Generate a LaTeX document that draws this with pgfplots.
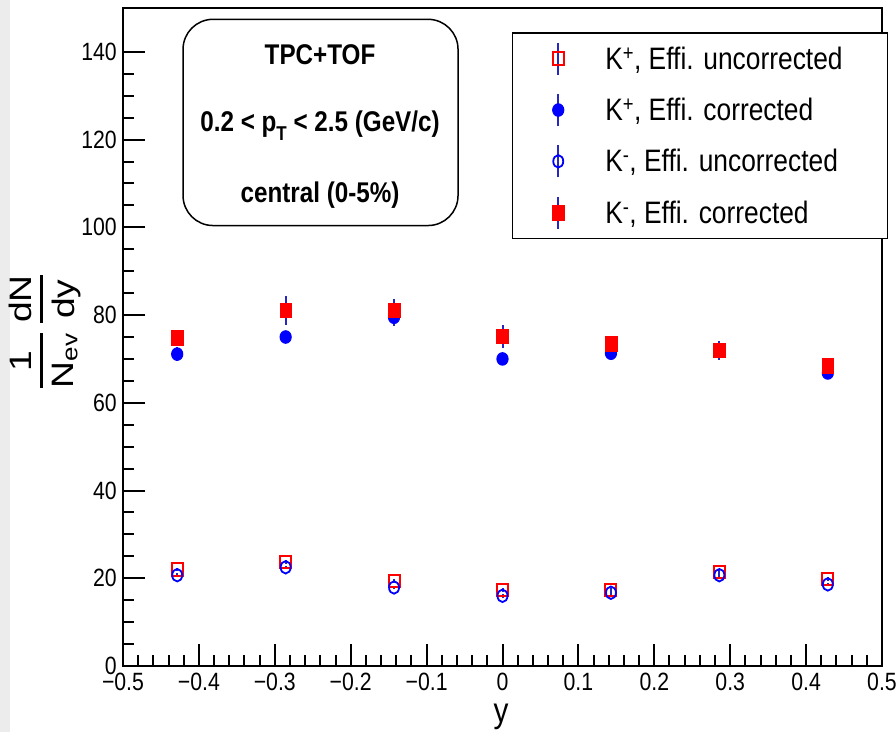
\documentclass[border=0pt]{standalone}
\usepackage{amsmath}
\usepackage{fontspec}
\setmainfont{Liberation Sans}[FakeStretch=0.85]
\newfontfamily\ylabfont{Liberation Sans}[FakeStretch=1.2]
\usepackage{pgfplots}
\usepackage{pgfplotstable}
\pgfplotsset{compat=1.18}
\definecolor{errblue}{RGB}{40,40,190}
\definecolor{gstrip}{RGB}{236,236,236}

% K+ efficiency uncorrected (red open squares)
\pgfplotstableread{
x y e
-0.4286 22.0 0.4
-0.2857 23.7 0.4
-0.1429 19.4 0.4
0.0 17.3 0.4
0.1429 17.3 0.4
0.2857 21.4 0.4
0.4286 19.8 0.4
}\kpunc
% K+ efficiency corrected (blue filled circles)
\pgfplotstableread{
x y e
-0.4286 71.1 1.6
-0.2857 75.0 1.3
-0.1429 79.5 1.9
0.0 70.0 1.3
0.1429 71.3 1.2
0.2857 72.0 2.0
0.4286 66.8 0.8
}\kpcor
% K- efficiency uncorrected (blue open circles)
\pgfplotstableread{
x y e
-0.4286 20.7 0.4
-0.2857 22.5 0.4
-0.1429 17.9 0.4
0.0 16.0 0.4
0.1429 16.7 0.4
0.2857 20.7 0.4
0.4286 18.6 0.4
}\kmunc
% K- efficiency corrected (red filled squares)
\pgfplotstableread{
x y e
-0.4286 74.8 1.2
-0.2857 81.1 3.3
-0.1429 81.1 2.5
0.0 75.2 2.6
0.1429 73.5 1.0
0.2857 72.0 2.2
0.4286 68.4 0.8
}\kmcor

\begin{document}
\begin{tikzpicture}
\fill[white] (-123pt,-66pt) rectangle (773pt,666pt);
\fill[gstrip] (-123pt,-66pt) rectangle (-113pt,666pt);
\begin{axis}[
  at={(0pt,0pt)}, anchor=south west,
  scale only axis, width=759pt, height=658pt,
  xmin=-0.5, xmax=0.5, ymin=0, ymax=150,
  xtick={-0.5,-0.4,-0.3,-0.2,-0.1,0,0.1,0.2,0.3,0.4,0.5},
  xticklabels={−0.5,−0.4,−0.3,−0.2,−0.1,0,0.1,0.2,0.3,0.4,0.5},
  ytick={0,20,40,60,80,100,120,140},
  minor x tick num=4, minor y tick num=3,
  tick align=inside, tick pos=left,
  major tick length=22pt, minor tick length=11pt,
  tick style={black, line width=2pt},
  axis line style={line width=2.2pt},
  /pgf/number format/assume math mode=true,
  tick label style={font=\fontsize{25}{26}\selectfont, inner sep=0pt},
  xticklabel style={yshift=-7pt},
  yticklabel style={xshift=-6pt},
  xlabel={y},
  xlabel style={at={(axis description cs:0.498,0)}, anchor=north, yshift=-38pt, inner sep=0pt, font=\fontsize{35}{35}\selectfont},
  ylabel={\ylabfont\fontsize{31}{31}\selectfont$\genfrac{}{}{3pt}{0}{\text{1}}{\text{N}_{\text{ev}}}\hspace{8pt}\genfrac{}{}{3pt}{0}{\text{dN}}{\text{dy}}$},
  ylabel style={at={(axis description cs:-0.1028,0.508)}, anchor=center, inner sep=0pt},
  legend cell align=left,
  legend style={at={(axis description cs:1.0079,0.963)}, anchor=north east, draw=black, line width=1.5pt, fill=white, inner sep=0pt, nodes={inner sep=0pt, font=\fontsize{31}{33}\selectfont}},
  legend image code/.code={
    \path[draw=none, fill=none] (-46pt,-25.65pt) rectangle (47pt,25.65pt);
    \draw[errblue, line width=2pt] (0pt,-16pt) -- (0pt,16pt);
    \draw[#1] plot coordinates {(0pt,0pt)};
  },
]
\addplot[only marks, red, mark=square, mark size=5.5pt, line width=2pt, mark options={yscale=1.15, solid},
  error bars/.cd, y dir=both, y explicit, error mark=none, error bar style={errblue, line width=2pt}]
  table[x=x, y=y, y error=e]{\kpunc};
\addlegendentry{\makebox[282pt][l]{K\textsuperscript{+}, Effi. uncorrected}}
\addplot[only marks, blue, mark=*, mark size=5.6pt, line width=1pt, mark options={yscale=1.12, solid, fill=blue},
  error bars/.cd, y dir=both, y explicit, error mark=none, error bar style={errblue, line width=2pt}]
  table[x=x, y=y, y error=e]{\kpcor};
\addlegendentry{\makebox[282pt][l]{K\textsuperscript{+}, Effi. corrected}}
\addplot[only marks, blue, mark=o, mark size=5pt, line width=1.8pt, mark options={yscale=1.25, solid},
  error bars/.cd, y dir=both, y explicit, error mark=none, error bar style={errblue, line width=2pt}]
  table[x=x, y=y, y error=e]{\kmunc};
\addlegendentry{\makebox[282pt][l]{K\textsuperscript{-}, Effi. uncorrected}}
\addplot[only marks, red, mark=square*, mark size=5.85pt, line width=0.5pt, mark options={yscale=1.25, solid, fill=red},
  error bars/.cd, y dir=both, y explicit, error mark=none, error bar style={errblue, line width=2pt}]
  table[x=x, y=y, y error=e]{\kmcor};
\addlegendentry{\makebox[282pt][l]{K\textsuperscript{-}, Effi. corrected}}

\draw[line width=1.5pt, rounded corners=30pt, fill=white] (axis description cs:0.0791,0.9828) rectangle (axis description cs:0.4414,0.6694);
\node[font=\bfseries\fontsize{28.5}{30}\selectfont, anchor=base, inner sep=0pt] at (axis description cs:0.2596,0.9142) {TPC+TOF};
\node[font=\bfseries\fontsize{28.5}{30}\selectfont, anchor=base, inner sep=0pt] at (axis description cs:0.2596,0.8124) {0.2 < p\raisebox{-9pt}{\fontsize{20}{20}\selectfont T} < 2.5 (GeV/c)};
\node[font=\bfseries\fontsize{28.5}{30}\selectfont, anchor=base, inner sep=0pt] at (axis description cs:0.2596,0.7044) {central (0-5\%)};
\end{axis}
\pgfresetboundingbox
\path[use as bounding box] (-123pt,-66pt) rectangle (773pt,666pt);
\end{tikzpicture}
\end{document}
